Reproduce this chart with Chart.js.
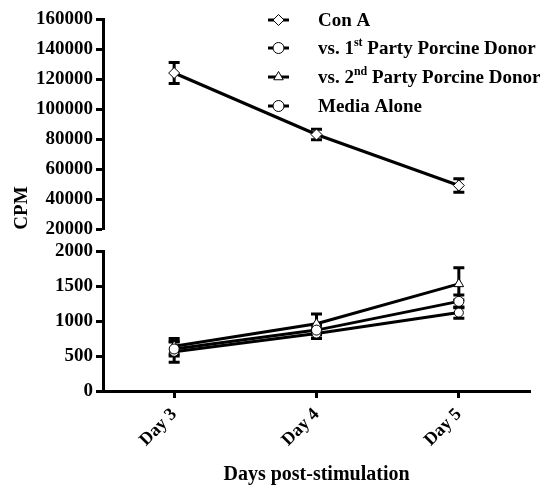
<!DOCTYPE html>
<html>
<head>
<meta charset="utf-8">
<script src="https://cdn.jsdelivr.net/npm/chart.js@4/dist/chart.umd.min.js"></script>
<style>
  body { margin: 0; background: #fff; }
  #wrap { width: 554px; height: 491px; position: relative; }
</style>
</head>
<body>
<div id="wrap"><canvas id="myChart"></canvas></div>
<script>
// values
var days = ["Day 3", "Day 4", "Day 5"];
var conA = [124000, 83000, 49000];
var conAErr = [7000, 3500, 4500];
var party1 = [600, 870, 1280];
var party1Err = [100, 70, 90];
var party2 = [640, 960, 1530];
var party2Err = [110, 140, 230];
var media = [560, 820, 1120];
var mediaErr = [150, 70, 80];
var highTicks = [20000, 160000, 20000];   // min, max, step of upper segment
var lowTicks = [0, 2000, 500];            // min, max, step of lower segment

var serif = "'Liberation Serif', 'Times New Roman', serif";

function lineSet(label, data, err, axis, style, radius) {
  return {
    label: label,
    data: data,
    err: err,
    yAxisID: axis,
    borderColor: "#000",
    borderWidth: 3,
    pointStyle: style,
    pointRadius: radius,
    pointBackgroundColor: "#fff",
    pointBorderColor: "#000",
    pointBorderWidth: 1,
    clip: false
  };
}

// vertical error bars with caps
var errorBars = {
  id: "errorBars",
  beforeDatasetsDraw(chart) {
    var ctx = chart.ctx;
    ctx.save();
    ctx.strokeStyle = "#000";
    ctx.lineWidth = 3;
    chart.data.datasets.forEach(function (ds, i) {
      var meta = chart.getDatasetMeta(i);
      var scale = chart.scales[ds.yAxisID];
      meta.data.forEach(function (pt, j) {
        var top = scale.getPixelForValue(ds.data[j] + ds.err[j]);
        var bot = scale.getPixelForValue(ds.data[j] - ds.err[j]);
        ctx.beginPath();
        ctx.moveTo(pt.x, top);
        ctx.lineTo(pt.x, bot);
        ctx.moveTo(pt.x - 5.5, top);
        ctx.lineTo(pt.x + 5.5, top);
        ctx.moveTo(pt.x - 5.5, bot);
        ctx.lineTo(pt.x + 5.5, bot);
        ctx.stroke();
      });
    });
    ctx.restore();
  }
};

// legend with superscript ordinals + y title spanning both segments
var extras = {
  id: "extras",
  afterDraw(chart) {
    var ctx = chart.ctx;
    ctx.save();
    ctx.fillStyle = "#000";
    ctx.font = "bold 19px " + serif;
    ctx.textBaseline = "middle";
    ctx.textAlign = "center";
    ctx.translate(22, 208);
    ctx.rotate(-Math.PI / 2);
    ctx.fillText("CPM", 0, 0);
    ctx.restore();

    ctx.save();
    var rows = [20, 48, 77, 106];
    chart.data.datasets.forEach(function (ds, i) {
      var y = rows[i];
      ctx.strokeStyle = "#000";
      ctx.lineWidth = 3;
      ctx.beginPath();
      ctx.moveTo(268, y);
      ctx.lineTo(289, y);
      ctx.stroke();
      ctx.fillStyle = "#fff";
      ctx.lineWidth = 1;
      Chart.helpers.drawPoint(ctx, {
        pointStyle: ds.pointStyle, radius: 5.5, rotation: 0, borderWidth: 1
      }, 278.5, y);

      ctx.fillStyle = "#000";
      ctx.textAlign = "left";
      ctx.textBaseline = "middle";
      var m = ds.label.match(/^(.*?\d)(st|nd|rd|th)(\b.*)$/);
      var x = 318;
      if (m) {
        ctx.font = "bold 19px " + serif;
        ctx.fillText(m[1], x, y + 1);
        x += ctx.measureText(m[1]).width;
        ctx.font = "bold 12px " + serif;
        ctx.fillText(m[2], x, y - 5);
        x += ctx.measureText(m[2]).width;
        ctx.font = "bold 19px " + serif;
        ctx.fillText(m[3], x, y + 1);
      } else {
        ctx.font = "bold 19px " + serif;
        ctx.fillText(ds.label, x, y + 1);
      }
    });
    ctx.restore();
  }
};

function yAxis(range, weight) {
  return {
    type: "linear",
    position: "left",
    stack: "cpm",
    stackWeight: weight,
    min: range[0],
    max: range[1],
    ticks: {
      stepSize: range[2],
      autoSkip: false,
      color: "#000",
      padding: 3,
      font: { family: serif, size: 19, weight: "bold" },
      callback: function (v) { return String(v); }
    },
    grid: {
      drawOnChartArea: false,
      drawTicks: true,
      tickLength: 7,
      tickWidth: 3,
      tickColor: "#000"
    },
    border: { display: true, color: "#000", width: 3 },
    afterFit: function (scale) { scale.width = 103; }
  };
}

new Chart("myChart", {
  type: "line",
  data: {
    labels: days,
    datasets: [
      lineSet("Con A", conA, conAErr, "yHigh", "rectRot", 5.5),
      lineSet("vs. 1st Party Porcine Donor", party1, party1Err, "yLow", "circle", 5),
      lineSet("vs. 2nd Party Porcine Donor", party2, party2Err, "yLow", "triangle", 5.5),
      lineSet("Media Alone", media, mediaErr, "yLow", "circle", 4.5)
    ]
  },
  options: {
    responsive: true,
    maintainAspectRatio: false,
    animation: false,
    layout: { padding: { top: 19, right: 24, left: 0, bottom: 0 } },
    plugins: {
      legend: { display: false },
      tooltip: { enabled: false }
    },
    scales: {
      x: {
        type: "category",
        offset: true,
        ticks: {
          color: "#000",
          maxRotation: 45,
          minRotation: 45,
          padding: 6,
          font: { family: serif, size: 18, weight: "bold" }
        },
        grid: {
          offset: false,
          drawOnChartArea: false,
          tickLength: 7,
          tickWidth: 3,
          tickColor: "#000"
        },
        border: { color: "#000", width: 3 },
        title: {
          display: true,
          text: "Days post-stimulation",
          color: "#000",
          padding: { top: 0, bottom: 4 },
          font: { family: serif, size: 20, weight: "bold" }
        },
        afterFit: function (scale) { scale.height = 100; }
      },
      yLow: yAxis(lowTicks, 140),
      yGap: {
        type: "linear",
        position: "left",
        stack: "cpm",
        stackWeight: 22,
        min: 0,
        max: 1,
        ticks: { display: false },
        grid: { display: false, drawTicks: false },
        border: { display: false },
        afterFit: function (scale) { scale.width = 103; }
      },
      yHigh: yAxis(highTicks, 210)
    }
  },
  plugins: [errorBars, extras]
});
</script>
</body>
</html>
